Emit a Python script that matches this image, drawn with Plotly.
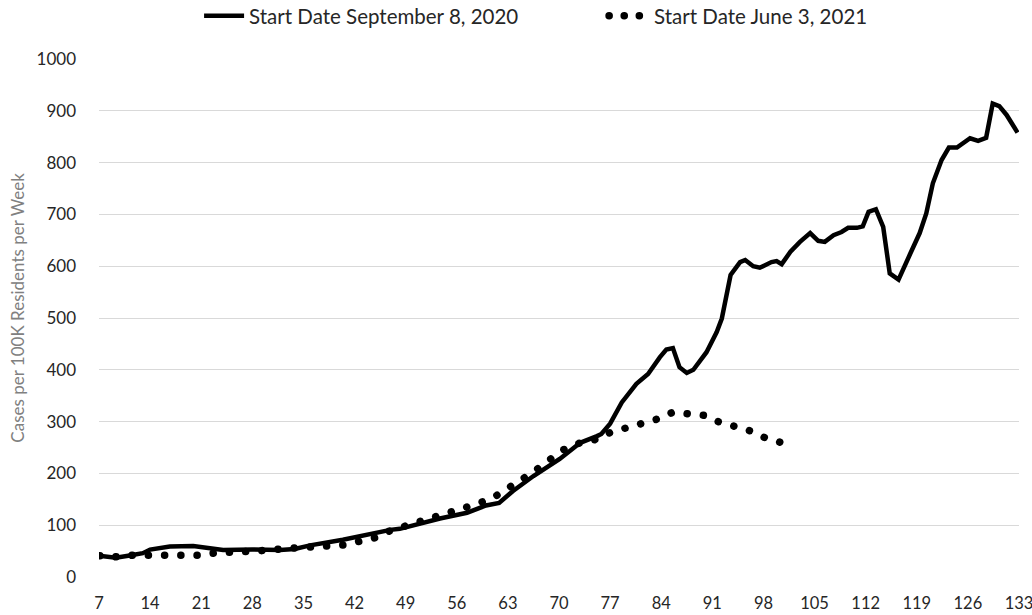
import plotly.graph_objects as go

# Solid series: Start Date September 8, 2020 (day, cases per 100K per week)
sep_days = [7, 9.3, 11, 13, 14, 16.7, 19.9, 20.8, 24, 28, 31.8, 33.8, 35.9, 40.4, 45, 46.9,
            48.2, 53.7, 57.4, 60, 61.8, 63.7, 66.5, 70.1, 72.0, 72.9, 75.2, 75.8, 77.0,
            78.6, 80.6, 82.2, 83.8, 84.7, 85.6, 86.5, 87.5, 88.4, 90.2, 91.6, 92.3, 93.5,
            94.8, 95.5, 96.6, 97.5, 99.1, 99.8, 100.5, 101.7, 103.0, 104.4, 105.5, 106.4,
            107.6, 108.7, 109.6, 110.8, 111.6, 112.4, 113.4, 114.4, 115.3, 116.5, 118.1,
            119.4, 120.3, 121.2, 122.4, 123.4, 124.5, 126.3, 127.4, 128.5, 129.4, 130.3,
            131.3, 132.8]
sep_vals = [41, 37, 41, 46, 53, 59, 60, 58, 52, 53, 52, 54, 61, 72, 86, 91,
            93, 113, 124, 138, 143, 166, 195, 228, 249, 259, 272, 276, 296,
            337, 373, 392, 424, 439, 442, 405, 394, 400, 434, 473, 499, 583,
            608, 612, 600, 597, 608, 610, 604, 628, 647, 664, 649, 647,
            660, 666, 674, 674, 677, 705, 710, 676, 586, 574, 624,
            664, 702, 760, 805, 829, 829, 847, 842, 848, 914, 909,
            892, 858]

# Dotted series: Start Date June 3, 2021
jun_days = [7.1, 9.3, 11.6, 13.8, 16, 18.3, 20.5, 22.7, 25, 27.2, 29.4, 31.7, 33.8, 36.1,
            38.3, 40.5, 42.7, 44.9, 46.8, 48.8, 50.8, 52.9, 55.1, 57.2, 59.2, 61.3, 63.1,
            65.1, 66.9, 68.6, 70.5, 72.9, 74.9, 77, 79.2, 81.3, 83.5, 85.6, 87.7, 89.9,
            91.8, 94, 96.2, 98.2, 100.3]
jun_vals = [41, 39, 42, 42, 42, 42, 42, 46, 47, 48, 51, 54, 57, 58,
            60, 62, 68, 76, 89, 98, 106, 114, 124, 135, 143, 156, 174,
            190, 207, 227, 245, 259, 265, 279, 287, 295, 305, 318, 316, 312,
            300, 290, 282, 269, 260]

x_ticks = list(range(7, 134, 7))
y_ticks = list(range(0, 1001, 100))

FONT = "Lato"

fig = go.Figure()
fig.add_trace(go.Scatter(x=sep_days, y=sep_vals, mode="lines",
                         name="Start Date September 8, 2020",
                         line=dict(color="black", width=4.5)))
fig.add_trace(go.Scatter(x=jun_days, y=jun_vals, mode="lines",
                         name="Start Date June 3, 2021",
                         line=dict(color="black", width=7.5, dash="7px,9px")))

fig.update_layout(
    width=1032, height=615,
    margin=dict(l=99, r=13, t=59, b=38),
    paper_bgcolor="white", plot_bgcolor="white",
    font=dict(family=FONT, size=17, color="#262626"),
    legend=dict(orientation="h", x=0.549, xanchor="center", y=0.974, yanchor="middle",
                yref="container", font=dict(size=20.5, color="#262626"),
                itemwidth=40, entrywidth=350, tracegroupgap=0,
                bgcolor="rgba(0,0,0,0)"),
    xaxis=dict(range=[7, 133.0001], tickmode="array", tickvals=x_ticks,
               ticktext=[str(t) for t in x_ticks], showgrid=False, zeroline=False,
               showline=False, ticks="", ticklabelstandoff=14, automargin=False,
               ticklabeloverflow="allow",
               tickfont=dict(size=16.5, color="#262626")),
    yaxis=dict(range=[0, 1000], tickmode="array", tickvals=y_ticks,
               showgrid=True, gridcolor="#d9d9d9", gridwidth=1.3, zeroline=False,
               showline=False, ticks="", ticklabelstandoff=22, automargin=False,
               tickfont=dict(size=17, color="#262626")),
    annotations=[dict(text="Cases per 100K Residents per Week", textangle=-90,
                      xref="paper", yref="paper", x=-0.088, y=0.52,
                      xanchor="center", yanchor="middle", showarrow=False,
                      font=dict(size=17, color="#808080"))],
)

post = """
var s = document.createElement('style');
var base = 'html,body{margin:0 !important;padding:0 !important;overflow:hidden;}' +
 '.legend .traces:nth-child(2) path.js-line{stroke-linecap:round !important;stroke-dasharray:0.1px,15px !important;}';
var dotRule = function(gap){ return '.scatterlayer .trace:nth-child(2) path.js-line{stroke-linecap:round !important;stroke-dasharray:0.1px,' + gap + 'px !important;}'; };
s.textContent = base + dotRule(16.2);
document.head.appendChild(s);
try {
  var p = document.querySelector('.scatterlayer .trace:nth-child(2) path.js-line');
  if (p) {
    var L = p.getTotalLength();
    var n = Math.max(1, Math.round(L / 16.2));
    var period = (L - 0.6) / n;
    s.textContent = base + dotRule((period - 0.1).toFixed(3));
  }
} catch (e) {}
"""
fig.write_html("out.html", post_script=post, config={"displayModeBar": False})
